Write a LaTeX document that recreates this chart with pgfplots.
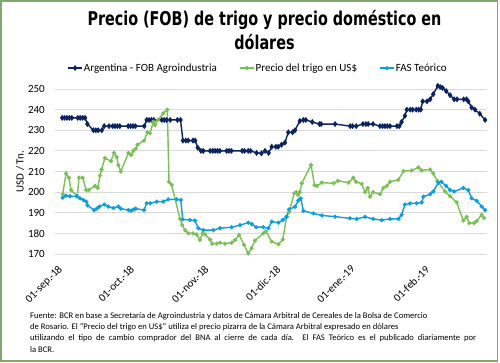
\documentclass[border=0pt]{standalone}
\usepackage{pgfplots}
\pgfplotsset{compat=1.18}
\usepackage{fontspec}
\setmainfont{Carlito}
\newfontfamily\titlefont{DejaVu Sans Condensed}[BoldFont={DejaVu Sans Condensed Bold}]
\definecolor{fobnavy}{RGB}{12,35,95}
\definecolor{trigogreen}{RGB}{122,192,85}
\definecolor{fasblue}{RGB}{15,157,222}
\definecolor{bordergreen}{RGB}{128,168,110}
\begin{document}
\begin{tikzpicture}
\useasboundingbox (0pt,0pt) rectangle (500pt,363pt);
\draw[line width=1.8pt, bordergreen] (0.9pt,1.6pt) rectangle (497.4pt,362.1pt);
% title
\node[anchor=base] at (264.5pt,337pt) {\scalebox{0.84}[1]{\titlefont\bfseries\fontsize{19}{22}\selectfont Precio (FOB) de trigo y precio doméstico en}};
\node[anchor=base] at (264.5pt,313pt) {\scalebox{0.84}[1]{\titlefont\bfseries\fontsize{19}{22}\selectfont dólares}};
\begin{axis}[
  at={(55pt,109pt)}, anchor=south west, scale only axis,
  width=432pt, height=165pt,
  xmin=0, xmax=180, ymin=170, ymax=250, clip=false,
  ytick={170,180,...,250},
  xtick={0,30,61,91,122,153},
  xticklabels={01-sep.-18,01-oct.-18,01-nov.-18,01-dic.-18,01-ene.-19,01-feb.-19},
  ymajorgrids, grid style={draw=black!15, line width=0.8pt},
  axis line style={draw=none}, major tick length=0pt,
  /pgf/number format/assume math mode=true,
  tick label style={font=\fontsize{11}{13}\selectfont},
  yticklabel style={anchor=east, inner sep=0pt, xshift=-10pt},
  xticklabel style={inner sep=0pt, xshift=2.5pt, yshift=-10.5pt, rotate=45, anchor=north east},
  ylabel={USD / Tn.},
  ylabel style={at={(axis description cs:-0.081,0.5)}, anchor=center, font=\fontsize{11}{13}\selectfont},
  legend style={draw=none, fill=none, at={(axis description cs:0.469,1.127)}, anchor=center,
    font=\fontsize{11}{13}\selectfont, inner sep=0pt,
    nodes={inner sep=1.2pt},
    /tikz/every even column/.append style={column sep=21pt}},
  legend columns=3,
  legend image code/.code={\draw[mark repeat=2,mark phase=2] plot coordinates {(0pt,0pt) (7pt,0pt) (14pt,0pt)};},
]
\addplot[fobnavy, line width=1.4pt, mark=diamond*, mark size=1.9pt] coordinates {
(3,236)(4,236)(5,236)(6,236)(7,236)
(9.5,236)(10.5,236)(11.5,236)(12.5,236)
(13.5,233)
(16,230)(17,230)(18,230)(19.5,230)
(20.5,232)(22.5,232)(24,232)(25,232)(26,232)(27,232)
(30.5,232)(31.5,232)(32.5,232)(33.5,232)
(37.2,232)(38.2,235)(39.2,235)(40.2,235)(41.2,235)
(44.5,235)(45.5,235)(46.5,235)(48,235)
(51,235)(52.3,235)(53.3,225)(54.5,225)(55.5,225)
(57.5,225)(58.4,225)(59.5,221.5)(60.8,220)(61.8,220)
(64.6,220)(65.7,220)(66.7,220)(67.7,220)(68.7,220)
(71.5,220)(72.5,220)(73.5,220)
(78,220)(79,220)(80.5,220)(81.5,220)
(84,219)(86,218.8)(87.5,220)(89,219)
(90.3,222)(92,222)(93,222)(94.4,223)(95.8,224)(97.2,229)
(99,229)(100,230)(102,234.5)(103.5,235)(104.5,235)
(107.2,234)(110.2,233)(110.9,233)(116.7,233)
(123,232)(124,232)(125.5,232)(128.3,233)(129.5,233)(130.5,233)(132.5,233)
(135.4,232)(136.5,232)(137.5,232)(138.5,232)(139.6,232)(142.5,232)(143.5,232)
(144.4,234)(145.8,237)(146.6,240)(148,240)(149,240)(150.5,240)(151.5,240)(152.4,240)
(153.2,244)(155,244)(156.3,245)(157.6,247.5)(159.5,251.5)(160.5,251)(161.5,250.5)
(163,249)(164.6,247)(166.3,245)(167.5,245)(170.3,245)(171.5,245)
(172.2,244)(173.6,241)(175,240)(177,238)(179.2,235)
};
\addlegendentry{Argentina - FOB Agroindustria}
\addplot[trigogreen, line width=1.4pt, mark=*, mark size=1.3pt] coordinates {
(3.2,199)(4.6,209)(5.8,207)(6.7,201)(9.3,198)(10,207)(11.5,207)(13,201)(14,201)(16.7,203)(17.8,202)(18.75,208)(19.4,211)(20.8,216.5)(23.3,215)(24.6,219)(25.7,217)(26.4,213)(27.4,210)(30.6,219)(31.7,218)(32.6,220)(33.6,221)(34.4,223)(37.1,225)(38.5,229)(39.6,228.5)(41,234.2)(41.7,232.5)(42.8,235)(45.1,238.2)(46.8,240)(47.5,205)(48.6,203.5)(52.1,187)(53,184)(54.2,181.5)(55.6,180)(57.5,180)(59,179.5)(60.4,176.8)(61.5,180)(62.5,179.5)(64.6,177)(65.5,175)(67.4,175)(68.75,175.5)(70.8,175)(73.6,175.5)(75,176.8)(76.7,179.2)(78.75,174.4)(80.5,170.3)(81.9,172.8)(83.3,176.5)(86.8,180)(87.9,181)(90.3,176)(93.1,174.7)(94.9,177)(96.5,188)(97.6,190.5)(99.7,199.4)(100.5,200)(101.3,198.6)(102,200)(102.8,204.3)(106.7,213.2)(108.1,203.4)(109.1,203)(111.2,204.6)(116.1,204.3)(117.9,205.5)(122.3,204.6)(124.3,207)(125.4,205)(127.8,204)(129.2,200)(130.3,202)(131.25,197.8)(132.6,200)(135.4,199)(136.8,202)(138.2,203)(139.6,205)(143.1,206)(145.2,210.2)(148.6,210.5)(151.4,212)(152.8,210.5)(156.3,211)(157.6,209)(159.3,205.4)(162.5,200.3)(164.6,198)(167.4,195)(170.1,186.2)(171.5,188)(172.6,185)(174.6,185)(175.7,186)(177.8,189)(178.75,187.5)
};
\addlegendentry{Precio del trigo en US\$}
\addplot[fasblue, line width=1.4pt, mark=*, mark size=1.3pt] coordinates {
(3.2,197.3)(4.6,198.3)(6.25,198)(9,198)(10.4,197)(11.8,196.2)(13,195.4)(13.5,193.6)(16.25,191.3)(17.4,192)(18.5,193)(20.6,194)(22.2,193)(24.3,192.3)(26.4,193)(27.4,192)(30.6,191.3)(31.7,191)(32.6,191.5)(33.6,192)(37.1,191.3)(38.2,194.6)(39.6,194.6)(42.4,195.4)(45.1,195.4)(47.2,196.5)(50.7,196.5)(52.4,196.2)(53.2,186.8)(56.2,186.5)(58.3,186.2)(59.7,182.5)(61.8,181.6)(66,181.6)(68.75,182.5)(73.6,183)(77.1,184)(80.5,185.2)(82,184.5)(83.8,183)(86.8,183)(88.9,182.5)(90.3,185.7)(93.1,185.2)(94.9,186.5)(96.5,188.1)(97.5,191.6)(100,192.9)(101.4,196)(102.4,197)(103.5,190.9)(107.7,189.7)(111.2,188.7)(116.7,188.1)(122.9,187.3)(125.7,187)(129.2,188)(132.6,187)(136.1,186.4)(139.6,187)(143.1,187)(144.4,189)(145.8,194)(147.9,194.5)(150.7,194.6)(152.8,195)(153.5,197.8)(156.3,199)(157.6,200.3)(159.7,204.6)(161,205)(163,203)(164.6,201)(166.3,200.3)(170.1,202)(172.2,201)(173.6,197)(175.7,195.8)(177.8,193)(179.2,191.3)
};
\addlegendentry{FAS Teórico}
\end{axis}
\node[anchor=north west, align=left, inner sep=0pt, font=\fontsize{8.6}{11.3}\selectfont] at (30pt,51pt) {Fuente: BCR en base a Secretaría de Agroindustria y datos de Cámara Arbitral de Cereales de la Bolsa de Comercio\\
de Rosario. El "Precio del trigo en US\$" utiliza el precio pizarra de la Cámara Arbitral expresado en dólares\\
\makebox[446pt][s]{utilizando el tipo de cambio comprador del BNA al cierre de cada día. El FAS Teórico es el publicado diariamente por}\\
la BCR.};
\end{tikzpicture}
\end{document}
